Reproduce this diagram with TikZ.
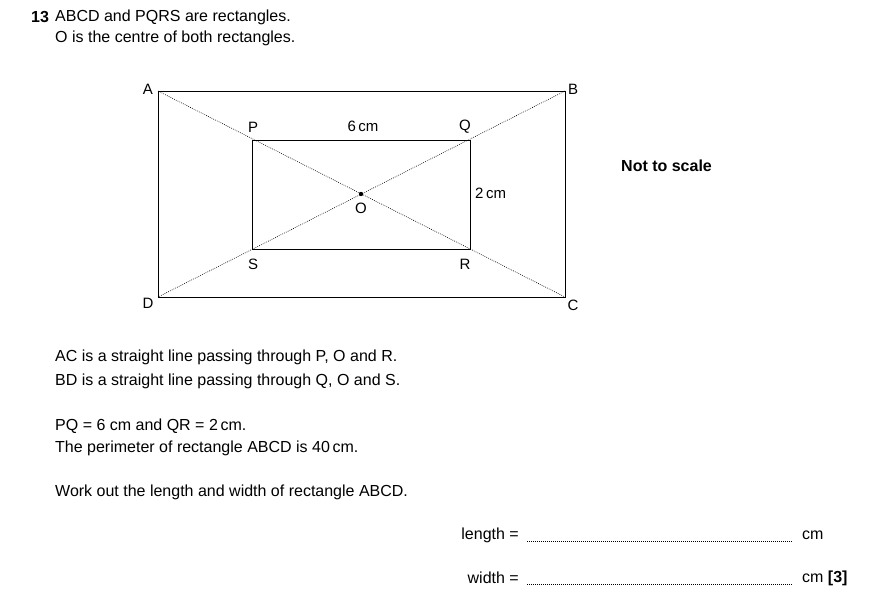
\documentclass[tikz,border=0pt]{standalone}
\usepackage{fontspec}
\setmainfont{Liberation Sans}
\begin{document}
\begin{tikzpicture}[x=1pt,y=-1pt,
  txt/.style={anchor=west,inner sep=0pt,font=\fontsize{16}{19}\selectfont},
  lab/.style={inner sep=0pt,font=\fontsize{15}{18}\selectfont},
  dotl/.style={line width=0.6pt,dash pattern=on 0.8pt off 1.2pt}]
\useasboundingbox (0,0) rectangle (870,615);
\node[txt,font=\fontsize{16}{19}\selectfont\bfseries] (n13) at (31,17) {13};
\node[txt] (t1) at (55,17) {ABCD and PQRS are rectangles.};
\node[txt] (t2) at (55,38) {O is the centre of both rectangles.};
\coordinate (A) at (158,91); \coordinate (B) at (565,91);
\coordinate (C) at (565,297); \coordinate (D) at (158,297);
\coordinate (P) at (252,140); \coordinate (Q) at (470,140);
\coordinate (R) at (470,249); \coordinate (S) at (252,249);
\coordinate (O) at (361,194);
\draw[line width=0.8pt] (A) -- (B) -- (C) -- (D) -- cycle;
\draw[line width=0.8pt] (P) -- (Q) -- (R) -- (S) -- cycle;
\draw[dotl] (A) -- (C); \draw[dotl] (B) -- (D);
\fill (O) circle (2.2pt);
\node[lab] (lA) at (148,89) {A}; \node[lab] (lB) at (573,89) {B};
\node[lab] (lC) at (573,305) {C}; \node[lab] (lD) at (148,303) {D};
\node[lab] (lP) at (253,127) {P}; \node[lab] (lQ) at (465,127) {Q};
\node[lab] (lR) at (465,264) {R}; \node[lab] (lS) at (253,264) {S};
\node[lab] (lO) at (361,208) {O};
\node[lab] (l6) at (363,126) {6\,cm};
\node[lab,anchor=west] (l2) at (475,193) {2\,cm};
\node[txt,font=\fontsize{16}{19}\selectfont\bfseries] (nts) at (621,166) {Not to scale};
\node[txt] (t3) at (55,357) {AC is a straight line passing through P, O and R.};
\node[txt] (t4) at (55,381) {BD is a straight line passing through Q, O and S.};
\node[txt] (t5) at (55,426) {PQ = 6 cm and QR = 2\,cm.};
\node[txt] (t6) at (55,448) {The perimeter of rectangle ABCD is 40\,cm.};
\node[txt] (t7) at (55,492) {Work out the length and width of rectangle ABCD.};
\node[txt,anchor=east] (len) at (519,535) {length =};
\node[txt,anchor=east] (wid) at (519,578) {width =};
\draw[dotl] (527,541) -- (792,541);
\draw[dotl] (527,584) -- (792,584);
\node[txt] (cm1) at (802,535) {cm};
\node[txt] (cm2) at (802,578) {cm \textbf{[3]}};
\end{tikzpicture}
\end{document}
